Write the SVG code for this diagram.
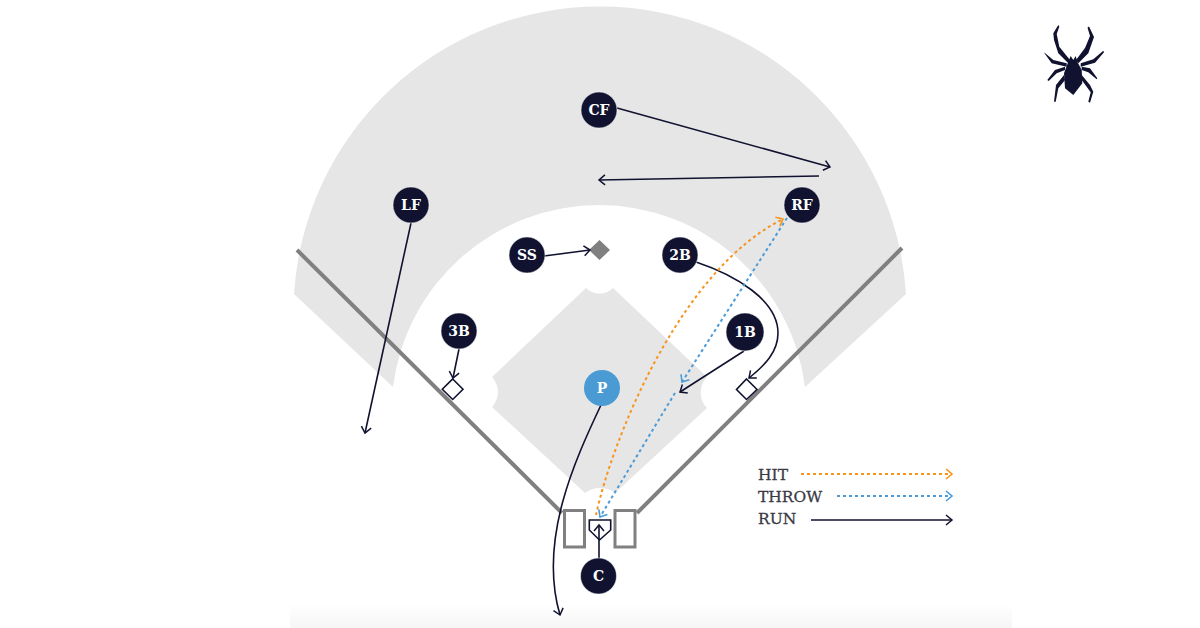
<svg xmlns="http://www.w3.org/2000/svg" width="1200" height="628" viewBox="0 0 1200 628">
<style>
.f{fill:#e6e6e6}
.foul{stroke:#808080;stroke-width:4;fill:none}
.run{stroke:#10122f;stroke-width:1.6;fill:none}
.hit{stroke:#f7941e;stroke-width:2;fill:none;stroke-dasharray:3 3}
.throw{stroke:#4a9bd8;stroke-width:2;fill:none;stroke-dasharray:3 3}
.base{fill:#fff;stroke:#10122f;stroke-width:1.6}
.n{fill:#10122f;stroke:#fff;stroke-width:.5}
.l{font-family:"DejaVu Serif","Liberation Serif",serif;font-weight:700;font-size:14px;fill:#fff;text-anchor:middle}
.lg{font-family:"DejaVu Serif","Liberation Serif",serif;font-size:15.500px;fill:#3a3a44;stroke:#3a3a44;stroke-width:.3}
</style>
<defs>
<linearGradient id="fade" x1="0" y1="0" x2="0" y2="1"><stop offset="0" stop-color="#fff"/><stop offset="1" stop-color="#f6f6f6"/></linearGradient>
<marker id="ar" viewBox="0 0 12 12" refX="10" refY="6" markerWidth="12" markerHeight="12" markerUnits="userSpaceOnUse" orient="auto"><path d="M4 1L10 6L4 11" fill="none" stroke="#10122f" stroke-width="1.5"/></marker>
<marker id="ao" viewBox="0 0 12 12" refX="10" refY="6" markerWidth="12" markerHeight="12" markerUnits="userSpaceOnUse" orient="auto"><path d="M4 1L10 6L4 11" fill="none" stroke="#f7941e" stroke-width="1.6"/></marker>
<marker id="ab" viewBox="0 0 12 12" refX="10" refY="6" markerWidth="12" markerHeight="12" markerUnits="userSpaceOnUse" orient="auto"><path d="M4 1L10 6L4 11" fill="none" stroke="#4a9bd8" stroke-width="1.6"/></marker>
</defs>
<rect x="290" y="604" width="722" height="24" fill="url(#fade)"/>
<g id="field">
<path class="f" d="M294 294A306.600 306.600 0 0 1 906 294L805 387A207.600 207.600 0 0 0 393 387Z"/>
<path class="f" d="M586 288A19 19 0 0 0 613 288L707 377A22 22 0 0 0 707 408L615 493A25 25 0 0 0 585 493L492 407A22 22 0 0 0 492 377Z"/>
<path class="foul" d="M297 250L562 513M902 248L637 513"/>
<rect x="564.500" y="510.500" width="20" height="36.500" fill="none" stroke="#808080" stroke-width="3"/>
<rect x="615" y="510.500" width="20" height="36.500" fill="none" stroke="#808080" stroke-width="3"/>
<path id="second" d="M599.500 240L610 250L599.500 260L589 250Z" fill="#808080"/>
<path id="third" class="base" d="M452.700 379L463 389.300L452.700 399.500L442.300 389.300Z"/>
<path id="first" class="base" d="M746.500 379L757 389.500L746.500 399.500L736.500 389.500Z"/>
<path id="home" class="base" d="M589.300 520H610.700V530L599.500 540L589.300 530Z"/>
</g>
<g id="connectors">
<path class="run" marker-end="url(#ar)" d="M617 108L830 167"/>
<path class="run" marker-end="url(#ar)" d="M819 176L599 180"/>
<path class="run" marker-end="url(#ar)" d="M411 223L365 433"/>
<path class="run" marker-end="url(#ar)" d="M544 256L590 250"/>
<path class="run" marker-end="url(#ar)" d="M459 349L453 378"/>
<path class="run" marker-end="url(#ar)" d="M696 262C735 275 778 300 778 333C778 352 765 365 749 378"/>
<path class="run" marker-end="url(#ar)" d="M744 351L680 392"/>
<path class="run" marker-end="url(#ar)" d="M601 405C575 460 538 540 560 615"/>
<path class="run" marker-end="url(#ar)" d="M599 559V525"/>
<path class="hit" marker-end="url(#ao)" d="M596 515C612 440 680 270 783 219"/>
<path class="throw" marker-end="url(#ab)" d="M787 218L682 382"/>
<path class="throw" marker-end="url(#ab)" d="M675 393L600 517"/>
</g>
<g id="CF"><circle class="n" cx="599" cy="110" r="18"/><text class="l" x="599" y="115">CF</text></g>
<g id="LF"><circle class="n" cx="411" cy="205" r="18"/><text class="l" x="411" y="210">LF</text></g>
<g id="RF"><circle class="n" cx="802" cy="205" r="18"/><text class="l" x="802" y="210">RF</text></g>
<g id="SS"><circle class="n" cx="527" cy="255" r="18"/><text class="l" x="527" y="260">SS</text></g>
<g id="2B"><circle class="n" cx="680" cy="255" r="18"/><text class="l" x="680" y="260">2B</text></g>
<g id="1B"><circle class="n" cx="745" cy="332" r="19"/><text class="l" x="745" y="337">1B</text></g>
<g id="3B"><circle class="n" cx="459" cy="331" r="18"/><text class="l" x="459" y="336">3B</text></g>
<g id="P"><circle cx="602" cy="388" r="18" fill="#4a9ad4"/><text class="l" x="602" y="393">P</text></g>
<g id="C"><circle class="n" cx="598.500" cy="576" r="18"/><text class="l" x="598.500" y="581">C</text></g>
<g id="legend">
<text class="lg" x="758" y="479.500">HIT</text>
<text class="lg" x="758" y="501.500">THROW</text>
<text class="lg" x="758" y="524">RUN</text>
<path class="hit" marker-end="url(#ao)" d="M801 474H952"/>
<path class="throw" marker-end="url(#ab)" d="M837 496H952"/>
<path class="run" marker-end="url(#ar)" d="M811 520H952"/>
</g>
<g id="spider" fill="#10122f">
<path d="M1070.700 56L1073.300 60L1075.700 56L1077.300 61.700L1081.700 70L1082.300 83.300L1073.300 95L1065 88.300L1064 73.300L1068.300 61.700Z"/>
<path d="M1068.300 63.300L1058.300 53.300L1054 40L1053.300 33.300L1058.300 25L1059.300 26.700L1056.700 34L1059.300 46.700L1070 60Z"/>
<path d="M1078.300 63.300L1088.300 53.300L1094 37L1089 26.500L1087.500 27.500L1090 36L1085 48L1076 60Z"/>
<path d="M1044 52.300L1053.300 60L1066.700 63.300V66.700L1051.700 63.300L1045 54Z"/>
<path d="M1103.300 50.700L1093.300 59.300L1080.700 63.300V66.700L1095 62.700L1104 52.300Z"/>
<path d="M1047.300 80L1055 70L1065 66.700V70L1056.700 73.300L1048.700 81Z"/>
<path d="M1097.300 78.300L1090 68.300L1081.700 66.700V70L1088.300 72.300L1096.700 79.300Z"/>
<path d="M1064 75L1056 85L1054 101.700H1055.700L1058.300 88.300L1065 80Z"/>
<path d="M1081.700 75L1090 85L1093.300 91.700L1090 102.700L1088.300 101.700L1090.700 92.300L1081.700 80Z"/>
</g>
</svg>
